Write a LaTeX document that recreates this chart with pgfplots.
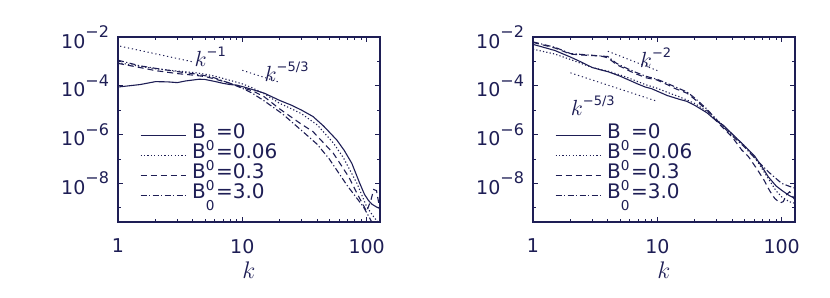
\documentclass[border=0pt]{standalone}
\usepackage{pgfplots}
\pgfplotsset{compat=1.18}
\usepackage{fontspec}
\setmainfont{DejaVu Sans}
\definecolor{navy}{RGB}{30,30,85}
\newcommand\sups[1]{\raisebox{5pt}{\fontsize{6.5}{7}\selectfont #1}}
\newcommand\tsup[1]{\raisebox{5.2pt}{\fontsize{8}{8}\selectfont #1}}
\newcommand\tl[1]{10\tsup{−#1}}
\newcommand\Bz[1]{B\makebox[4.8pt][l]{\raisebox{-6.2pt}{\fontsize{6.8}{6.8}\selectfont 0}}\hspace{0.3pt}=#1}
\newcommand\kk[1]{{\fontsize{10.5}{10.5}\selectfont$k$}\sups{#1}}
\tikzset{
  c1/.style={navy, line width=0.55pt},
  c2/.style={navy, line width=0.55pt, dash pattern=on 0.6pt off 1.1pt},
  c3/.style={navy, line width=0.55pt, dash pattern=on 3pt off 2pt},
  c4/.style={navy, line width=0.55pt, dash pattern=on 3pt off 1.2pt on 0.6pt off 1.2pt},
  rf/.style={navy, line width=0.5pt, dash pattern=on 0.6pt off 1.4pt},
}
\pgfplotsset{every axis/.append style={
    scale only axis, width=131pt, height=92.5pt,
    xmin=1, xmax=128, ymin=2.6e-10, ymax=1e-2,
    axis line style={navy, line width=0.7pt},
    every tick/.style={navy, line width=0.4pt},
    major tick length=2.5pt, minor tick length=1.6pt,
    xtick={1,10,100}, xticklabels={1,10,100},
    minor xtick={2,3,4,5,6,7,8,9,20,30,40,50,60,70,80,90},
    ytick={1e-8,1e-6,1e-4,1e-2}, yticklabels={\tl8,\tl6,\tl4,\tl2},
    minor ytick={1e-9,1e-7,1e-5,1e-3},
    tick label style={text=navy, font=\fontsize{9.5}{10}\selectfont},
    xticklabel style={yshift=-5pt},
    yticklabel style={xshift=-1pt},
    xlabel={$k$}, xlabel style={at={(axis description cs:0.5,0)}, anchor=center, yshift=-24pt, text=navy, font=\fontsize{12}{12}\selectfont},
    legend style={at={(axis description cs:0.084,0.524)}, anchor=north west, draw=none, fill=none, inner sep=0pt, outer sep=0pt, row sep=0pt, column sep=3pt, text=navy, font=\fontsize{10}{10}\selectfont, nodes={inner sep=0pt, text height=6.5pt, text depth=3.5pt}},
    legend cell align=left,
    legend image code/.code={\draw[#1] (0pt,0pt) -- (22.5pt,0pt);},
}}
\begin{document}
\begin{tikzpicture}
\useasboundingbox (0,0) rectangle (415pt,148.5pt);
\begin{loglogaxis}[at={(59pt,37.5pt)}, anchor=south west]
\addplot[c1] coordinates {(1,8.9e-5)(1.5,1.12e-4)(2,1.48e-4)(2.5,1.45e-4)(3,1.35e-4)(3.5,1.58e-4)(4.5,1.86e-4)(5,1.82e-4)(6,1.51e-4)(7,1.26e-4)(8,1.12e-4)(9,1.07e-4)(10,9.3e-5)(12,7.1e-5)(15,5.0e-5)(20,2.5e-5)(25,1.58e-5)(30,1.0e-5)(37,5.5e-6)(45,2.24e-6)(57.5,6.0e-7)(66,2.24e-7)(76,6.6e-8)(88,1.0e-8)(96,3.55e-9)(103,2.04e-9)(110,1.41e-9)(120,1.07e-9)(128,9.3e-10)};
\addplot[c2] coordinates {(1,8.9e-4)(1.5,6.3e-4)(2,5.0e-4)(3,4.0e-4)(4,3.55e-4)(5,3.0e-4)(6,2.5e-4)(7,2.0e-4)(8,1.66e-4)(10,1.2e-4)(12,8.3e-5)(15,4.7e-5)(20,1.9e-5)(25,1.12e-5)(30,7.1e-6)(40,2.5e-6)(54,4.5e-7)(65,1.12e-7)(83.5,1.0e-8)(100,1.1e-9)(116,3.7e-10)(128,2.2e-10)};
\addplot[c3] coordinates {(1,8.3e-4)(1.5,5.6e-4)(2,4.2e-4)(3,3.16e-4)(4,2.75e-4)(5,2.4e-4)(6,1.9e-4)(8,1.26e-4)(10,8.3e-5)(12,6.3e-5)(15,3.55e-5)(20,1.12e-5)(29,2.95e-6)(37,1.32e-6)(54,1.7e-7)(61,6.6e-8)(72,1.78e-8)(83.5,3.9e-9)(100,7.1e-10)(108,2.0e-9)(114,5.6e-9)(120,5.0e-9)(125,1.58e-9)(128,6.3e-10)};
\addplot[c4] coordinates {(1,1.12e-3)(1.5,6.6e-4)(2,5.2e-4)(3,3.8e-4)(4,3.16e-4)(5,2.6e-4)(6,2.1e-4)(7,1.58e-4)(8,1.26e-4)(10,7.9e-5)(12,5.0e-5)(15,2.4e-5)(21,7.1e-6)(31,1.26e-6)(40,4.0e-7)(50,1.0e-7)(70,7.9e-9)(94,1.1e-9)(106,3.7e-10)(115,1.6e-10)};
\legend{\Bz{0},\Bz{0.06},\Bz{0.3},\Bz{3.0}}
\addplot[rf, forget plot] coordinates {(1.04,4.2e-3)(4.03,9.5e-4)};
\addplot[rf, forget plot] coordinates {(10,4.3e-4)(20,1.38e-4)};
\node[anchor=west, inner sep=0pt, text=navy] at (axis cs:4.1,1.6e-3) {\kk{−1}};
\node[anchor=west, inner sep=0pt, text=navy] at (axis cs:15,3.8e-4) {\kk{−5/3}};
\end{loglogaxis}
\begin{loglogaxis}[at={(266.5pt,37.5pt)}, anchor=south west]
\addplot[c1] coordinates {(1,5.0e-3)(1.5,2.8e-3)(2,1.51e-3)(2.5,8.9e-4)(3,5.6e-4)(3.5,4.5e-4)(4,3.8e-4)(5,2.5e-4)(6,1.66e-4)(7,1.17e-4)(8,8.9e-5)(9,7.6e-5)(10,6.0e-5)(12,4.0e-5)(15,2.8e-5)(17.3,2.3e-5)(20,1.58e-5)(25,7.9e-6)(30,3.55e-6)(34,2.4e-6)(42,8.3e-7)(50,3.55e-7)(61,1.26e-7)(70,4.5e-8)(78,1.86e-8)(90,7.9e-9)(100,5.2e-9)(115,3.16e-9)(128,2.4e-9)};
\addplot[c2] coordinates {(1,3.16e-3)(1.5,2.0e-3)(2,1.2e-3)(3,5.6e-4)(4,4.0e-4)(5,2.8e-4)(6,2.0e-4)(8,1.12e-4)(10,7.9e-5)(12,5.4e-5)(15,3.55e-5)(20,1.9e-5)(25,8.9e-6)(30,4.2e-6)(40,1.0e-6)(50,3.55e-7)(61,1.12e-7)(78,1.58e-8)(90,5.0e-9)(100,2.8e-9)(115,1.78e-9)(128,1.51e-9)};
\addplot[c3] coordinates {(1,6.0e-3)(1.5,3.55e-3)(2,2.0e-3)(2.5,1.82e-3)(3,1.74e-3)(3.5,1.66e-3)(4,1.41e-3)(4.7,7.4e-4)(5.5,5.0e-4)(6.5,3.3e-4)(8.2,2.1e-4)(9.8,1.78e-4)(12,1.12e-4)(14,7.6e-5)(17.3,5.0e-5)(20,2.8e-5)(25,1.0e-5)(32,2.5e-6)(40,7.9e-7)(47.7,2.34e-7)(54,1.26e-7)(63,4.0e-8)(72,1.38e-8)(80,5.0e-9)(88,2.4e-9)(97,1.58e-9)(103,1.78e-9)(110,3.55e-9)(116,4.5e-9)(122,3.16e-9)(128,2.0e-9)};
\addplot[c4] coordinates {(1,6.3e-3)(1.5,3.8e-3)(2,2.1e-3)(3,1.78e-3)(4,1.58e-3)(4.7,8.3e-4)(5.5,5.6e-4)(6.5,3.8e-4)(8.2,2.4e-4)(9.8,1.9e-4)(12,1.26e-4)(14,8.9e-5)(17.3,5.6e-5)(20,3.16e-5)(25,1.12e-5)(32,2.8e-6)(40,8.9e-7)(50,3.16e-7)(63,8.9e-8)(78,3.0e-8)(90,1.58e-8)(100,1.0e-8)(115,7.6e-9)(128,6.3e-9)};
\legend{\Bz{0},\Bz{0.06},\Bz{0.3},\Bz{3.0}}
\addplot[rf, forget plot] coordinates {(4,2.6e-3)(10,4.2e-4)};
\addplot[rf, forget plot] coordinates {(2,3.4e-4)(10,2.3e-5)};
\node[anchor=west, inner sep=0pt, text=navy] at (axis cs:7.2,1.45e-3) {\kk{−2}};
\node[anchor=west, inner sep=0pt, text=navy] at (axis cs:2.0,1.5e-5) {\kk{−5/3}};
\end{loglogaxis}
\end{tikzpicture}
\end{document}
